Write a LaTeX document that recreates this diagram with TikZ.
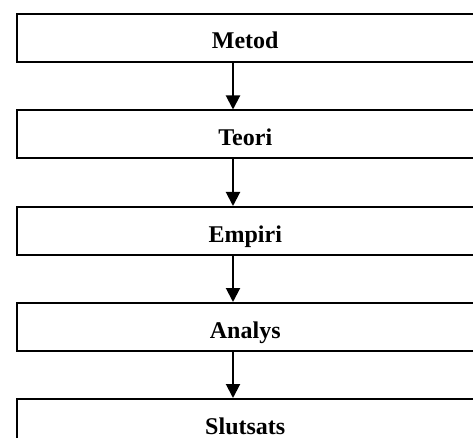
\documentclass[tikz,border=0pt]{standalone}
\usepackage{fontspec}
\setmainfont{Liberation Serif}
\usetikzlibrary{arrows.meta}
\begin{document}
\begin{tikzpicture}[x=1pt,y=1pt,
  stepbox/.style={draw, line width=2pt, minimum width=456.5pt, minimum height=48pt,
    inner sep=0pt, anchor=north west, text height=22pt, text depth=0pt,
    font=\fontsize{24}{28}\selectfont\bfseries},
  arr/.style={line width=2pt, -{Triangle[width=14pt,length=14pt]}}]
\useasboundingbox (0,0) rectangle (473,-438);
\clip (0,0) rectangle (473,-438);
\coordinate (ax) at (233,0);
\node[stepbox] (b1) at (16,-13) {Metod};
\node[stepbox] (b2) at (16,-109.5) {Teori};
\node[stepbox] (b3) at (16,-206) {Empiri};
\node[stepbox] (b4) at (16,-302) {Analys};
\node[stepbox] (b5) at (16,-398) {Slutsats};
\draw[arr] (b1.south -| ax) -- (b2.north -| ax);
\draw[arr] (b2.south -| ax) -- (b3.north -| ax);
\draw[arr] (b3.south -| ax) -- (b4.north -| ax);
\draw[arr] (b4.south -| ax) -- (b5.north -| ax);
\end{tikzpicture}
\end{document}
